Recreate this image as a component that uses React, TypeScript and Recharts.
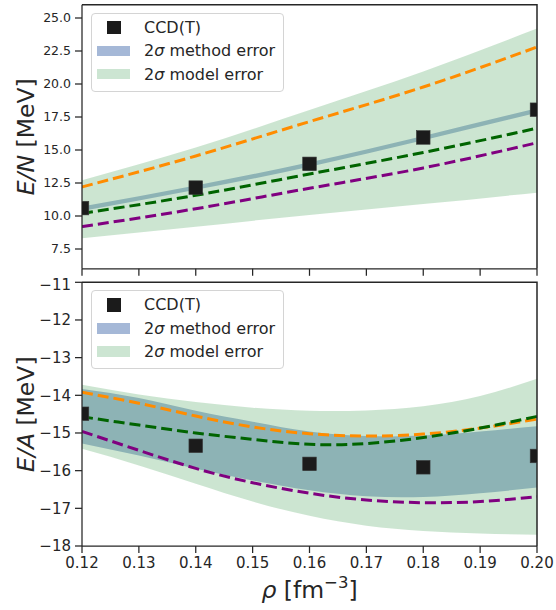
import React from 'react';
import { ComposedChart, Area, Line, Scatter, XAxis, YAxis, Legend } from 'recharts';

// densities (fm^-3)
const rhoCoarse = [0.12, 0.14, 0.16, 0.18, 0.2];
const rhoFine = [0.12, 0.13, 0.14, 0.15, 0.16, 0.17, 0.18, 0.19, 0.2];

// neutron matter, E/N [MeV]
const pnmCcd = [10.6, 12.15, 13.95, 15.95, 18.05];
const pnmMethodLo = [10.38, 11.98, 13.73, 15.73, 17.83];
const pnmMethodHi = [10.72, 12.32, 14.07, 16.07, 18.17];
const pnmModelLo = [8.31, 9.19, 10.08, 10.9, 11.77];
const pnmModelHi = [12.7, 15.18, 18.03, 20.95, 24.2];
const pnmOrange = [12.2, 14.55, 17.15, 19.77, 22.8];
const pnmGreen = [10.2, 11.57, 13.18, 14.81, 16.65];
const pnmPurple = [9.2, 10.55, 12.1, 13.64, 15.55];

// symmetric matter, E/A [MeV]
const snmCcd = [-14.49, -15.34, -15.82, -15.91, -15.61];
const snmMethodLo = [-15.28, -15.6, -15.95, -16.26, -16.52, -16.68, -16.7, -16.6, -16.45];
const snmMethodHi = [-13.83, -14.07, -14.41, -14.7, -14.96, -15.08, -15.07, -14.96, -14.82];
const snmModelLo = [-15.42, -15.86, -16.35, -16.82, -17.2, -17.46, -17.6, -17.67, -17.7];
const snmModelHi = [-13.72, -13.98, -14.18, -14.33, -14.41, -14.4, -14.29, -14.02, -13.56];
const snmOrange = [-13.92, -14.21, -14.55, -14.84, -15.02, -15.08, -15.03, -14.87, -14.63];
const snmGreen = [-14.57, -14.79, -15.0, -15.17, -15.3, -15.28, -15.12, -14.87, -14.56];
const snmPurple = [-14.96, -15.46, -15.94, -16.32, -16.6, -16.78, -16.85, -16.82, -16.69];

const xTicks = rhoFine;
const topYTicks = [7.5, 10, 12.5, 15, 17.5, 20, 22.5, 25];
const bottomYTicks = [-18, -17, -16, -15, -14, -13, -12, -11];

const topData = rhoCoarse.map((x, i) => ({
  x, ccd: pnmCcd[i],
  methodLo: pnmMethodLo[i], methodHi: pnmMethodHi[i],
  modelLo: pnmModelLo[i], modelHi: pnmModelHi[i],
  orange: pnmOrange[i], green: pnmGreen[i], purple: pnmPurple[i],
}));
const bottomData = rhoFine.map((x, i) => ({
  x,
  methodLo: snmMethodLo[i], methodHi: snmMethodHi[i],
  modelLo: snmModelLo[i], modelHi: snmModelHi[i],
  orange: snmOrange[i], green: snmGreen[i], purple: snmPurple[i],
}));
const bottomCcd = rhoCoarse.map((x, i) => ({ x, ccd: snmCcd[i] }));

const FONT = '"DejaVu Sans", sans-serif';
const INK = '#262626';
const LW = 1.25;
const axisStyle = { stroke: INK, strokeWidth: LW };
const DASH = '11 5';
const WIDTH = 556;
const Y_AXIS_W = 82;
const RIGHT = 19;

const Square = (p: any) => (
  <rect x={p.cx - 6.8} y={p.cy - 6.8} width={13.6} height={13.6} fill="#1b1b1b" stroke="#3a3a3a" strokeWidth={0.6} />
);

const minus = (v: number) => String(v).replace('-', '\u2212');

function LegendBox() {
  const row = { height: 23.3, display: 'flex', alignItems: 'center' } as const;
  const mark = { width: 52, position: 'relative', height: '100%' } as const;
  return (
    <div style={{
      width: 193, background: 'white', border: '1px solid #d4d4d4', borderRadius: 4,
      padding: '2px 0 5px 0', fontFamily: FONT, fontSize: 16, color: INK, boxSizing: 'border-box',
    }}>
      <div style={row}>
        <div style={mark}>
          <div style={{ position: 'absolute', left: 15, top: 5, width: 13.6, height: 13.6, background: '#1b1b1b' }} />
        </div>
        <span>CCD(T)</span>
      </div>
      <div style={row}>
        <div style={mark}>
          <div style={{ position: 'absolute', left: 5, top: 6.5, width: 33, height: 10.5, background: '#a5b8d7' }} />
        </div>
        <span>2<i>σ</i> method error</span>
      </div>
      <div style={row}>
        <div style={mark}>
          <div style={{ position: 'absolute', left: 5, top: 6.5, width: 33, height: 10.5, background: '#cce5d2' }} />
        </div>
        <span>2<i>σ</i> model error</span>
      </div>
    </div>
  );
}

// y-axis label, plus the top and right spines of the plot box
const yLabel = (italic: string) => (props: any) => {
  const vb = props.viewBox;
  const cx = 26;
  const top = Number(vb.y);
  const h = Number(vb.height);
  const cy = top + h / 2;
  const left = Y_AXIS_W;
  const right = WIDTH - RIGHT;
  return (
    <g>
      <path d={`M${left},${top}H${right}V${top + h}`} fill="none" stroke={INK} strokeWidth={1.5} />
      <text x={cx} y={cy} transform={`rotate(-90 ${cx} ${cy})`} textAnchor="middle" dominantBaseline="central"
        fontFamily={FONT} fontSize={23.5} fill={INK}>
        <tspan fontStyle="italic">{italic}</tspan>
        <tspan> [MeV]</tspan>
      </text>
    </g>
  );
};

const xLabel = (props: any) => {
  const vb = props.viewBox;
  return (
    <text x={vb.x + vb.width / 2} y={vb.y + 52} textAnchor="middle" fontFamily={FONT} fontSize={23.5} fill={INK}>
      <tspan fontStyle="italic">ρ</tspan>
      <tspan> [fm</tspan>
      <tspan fontSize={16.5} dy={-10}>{'\u22123'}</tspan>
      <tspan dy={10}>]</tspan>
    </text>
  );
};

function Panel(props: {
  data: any[]; ccd: any[]; domain: [number, number]; yTicks: number[]; yFont: number;
  label: string; showX: boolean; height: number; top: number; bottom: number; xHeight: number;
}) {
  const { data, ccd, domain, yTicks, yFont, label, showX, height, top, bottom, xHeight } = props;
  return (
    <div style={{ position: 'relative', width: WIDTH, height }}>
      <ComposedChart width={WIDTH} height={height} data={data} margin={{ top, right: RIGHT, bottom, left: 0 }}>
        <XAxis
          dataKey="x" type="number" domain={[0.12, 0.2]} ticks={xTicks} allowDataOverflow
          height={xHeight} tickSize={7} tickMargin={4} axisLine={axisStyle} tickLine={axisStyle}
          tick={{ fill: INK, fontSize: 15, fontFamily: FONT }}
          tickFormatter={(v: number) => (showX ? v.toFixed(2) : '')}
          label={showX ? { content: xLabel } : undefined}
        />
        <YAxis
          type="number" domain={domain} ticks={yTicks} allowDataOverflow width={Y_AXIS_W}
          tickSize={7} tickMargin={4} axisLine={axisStyle} tickLine={axisStyle}
          tick={{ fill: INK, fontSize: yFont, fontFamily: FONT }}
          tickFormatter={(v: number) => (yFont < 14 ? v.toFixed(1) : minus(v))}
          label={{ content: yLabel(label) }}
        />
        <Area type="natural" dataKey={(d: any) => [d.methodLo, d.methodHi]} stroke="none"
          fill="#4c72b0" fillOpacity={0.5} isAnimationActive={false} />
        <Area type="natural" dataKey={(d: any) => [d.modelLo, d.modelHi]} stroke="none"
          fill="#55a868" fillOpacity={0.3} isAnimationActive={false} />
        <Line type="natural" dataKey="orange" stroke="#ff8c00" strokeWidth={3} strokeDasharray={DASH}
          dot={false} isAnimationActive={false} />
        <Line type="natural" dataKey="green" stroke="#006400" strokeWidth={3} strokeDasharray={DASH}
          dot={false} isAnimationActive={false} />
        <Line type="natural" dataKey="purple" stroke="#800080" strokeWidth={3} strokeDasharray={DASH}
          dot={false} isAnimationActive={false} />
        <Scatter data={ccd} dataKey="ccd" shape={Square} isAnimationActive={false} />
        <Legend layout="vertical" align="center" verticalAlign="middle" content={() => <LegendBox />}
          wrapperStyle={{ left: 91, top: top + 8, width: 'auto', height: 'auto' }} />
      </ComposedChart>
    </div>
  );
}

export default function App() {
  return (
    <div style={{ position: 'absolute', left: 0, top: 0, width: 556, height: 610, background: 'white' }}>
      <div style={{ position: 'absolute', left: 0, top: 0 }}>
        <Panel data={topData} ccd={topData} domain={[6, 26]} yTicks={topYTicks} yFont={12.5}
          label="E/N" showX={false} height={282} top={4.8} bottom={3.2} xHeight={10} />
      </div>
      <div style={{ position: 'absolute', left: 0, top: 276 }}>
        <Panel data={bottomData} ccd={bottomCcd} domain={[-18, -11]} yTicks={bottomYTicks} yFont={15}
          label="E/A" showX height={334} top={6.3} bottom={4} xHeight={60} />
      </div>
    </div>
  );
}
